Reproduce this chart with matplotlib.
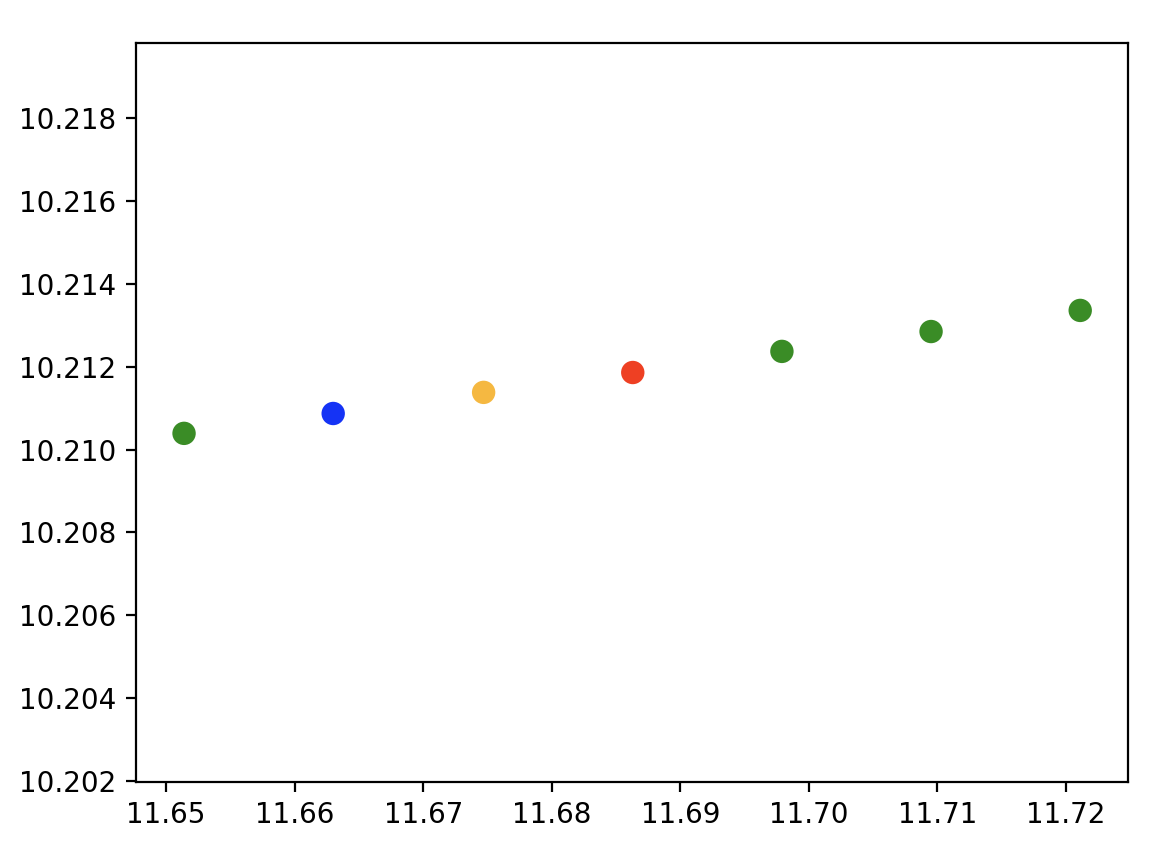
import matplotlib
matplotlib.use("Agg")
import matplotlib.pyplot as plt

x_vals = [11.6514, 11.6630, 11.6747, 11.6863, 11.6979, 11.7095, 11.7211]
y_vals = [10.21039, 10.21087, 10.21138, 10.21186, 10.21237, 10.21285, 10.21336]
point_colors = ['#3a8c26', '#1533f5', '#f5b841', '#ee4023', '#3a8c26', '#3a8c26', '#3a8c26']

W, H, DPI = 1166, 860, 200
fig = plt.figure(figsize=(W / DPI, H / DPI), dpi=DPI)
ax = fig.add_axes([135.7 / W, 1 - 781.5 / H, (1128.3 - 135.7) / W, (781.5 - 43) / H])

ax.scatter(x_vals, y_vals, c=point_colors, s=55, zorder=3)

ax.set_ylim(10.20198, 10.21982)
ax.set_yticks([10.202, 10.204, 10.206, 10.208, 10.210, 10.212, 10.214, 10.216, 10.218])
ax.set_xticks([11.65, 11.66, 11.67, 11.68, 11.69, 11.70, 11.71, 11.72])
ax.set_xlim(11.64764, 11.72484)

fig.savefig('out.png', dpi=DPI)
plt.close()
